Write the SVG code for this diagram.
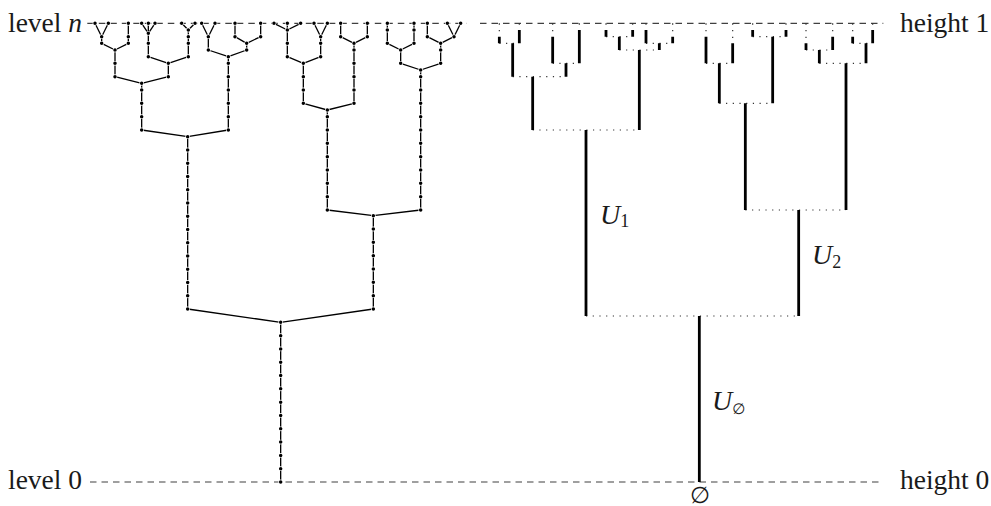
<svg xmlns="http://www.w3.org/2000/svg" xmlns:xlink="http://www.w3.org/1999/xlink" width="991" height="506" viewBox="0 0 991 506">
<style>
.ref{fill:none;stroke:#404040;stroke-width:1.1;stroke-dasharray:6.5 5}
.edge{fill:none;stroke:#000;stroke-width:1.3;stroke-linejoin:round}
.halo{fill:none;stroke:#fff;stroke-width:4.8;stroke-linecap:round}
.dot{fill:none;stroke:#000;stroke-width:3.5;stroke-linecap:round}
.bar{fill:none;stroke:#000;stroke-width:2.8}
.link{fill:none;stroke:#333;stroke-width:1.2;stroke-dasharray:1.2 5.5}
.vlink{fill:none;stroke:#333;stroke-width:1.2;stroke-dasharray:1.3 5.37}
text{font-family:"Liberation Serif","DejaVu Serif",serif;fill:#1a1a1a}
.lab{font-size:27.5px}
.var{font-size:28px;font-style:italic}
.sub{font-size:18px;font-style:normal}
.es{font-family:"DejaVu Sans",sans-serif;font-style:normal}
</style>
<defs>
<path id="lv" d="M95 23.33h0M108.33 23.33h0M128.33 23.33h0M141.67 23.33h0M148.33 23.33h0M155 23.33h0M181.67 23.33h0M195 23.33h0M201.67 23.33h0M215 23.33h0M235 23.33h0M260.67 23.33h0M274 23.33h0M287.33 23.33h0M300.67 23.33h0M314 23.33h0M327.33 23.33h0M340.67 23.33h0M367.33 23.33h0M387.33 23.33h0M414 23.33h0M427.33 23.33h0M447.33 23.33h0M460.67 23.33h0
M101.67 36.67h0M101.67 43.33h0M128.33 36.67h0M128.33 43.33h0M115 50h0M115 63.33h0M115 76.67h0
M141.67 83.33h0M141.67 90h0M141.67 103.33h0M141.67 116.67h0M141.67 130h0
M148.33 33.33h0M148.33 43.33h0M148.33 56.67h0M168.33 63.33h0M168.33 76.67h0
M188.33 30h0M188.33 36.67h0M188.33 43.33h0M188.33 56.67h0
M208.33 36.67h0M208.33 50h0M228.33 56.67h0M228.33 63.33h0M228.33 76.67h0M228.33 90h0M228.33 103.33h0M228.33 116.67h0M228.33 130h0
M235 36.67h0M246.67 43.33h0M246.67 50h0M260.67 36.67h0
M187.67 136.67h0M187.67 150h0M187.67 163.25h0M187.67 176.5h0M187.67 189.75h0M187.67 203h0M187.67 216.25h0M187.67 229.5h0M187.67 242.75h0M187.67 256h0M187.67 269.25h0M187.67 282.5h0M187.67 295.75h0M187.67 309h0
M280.67 322.33h0M280.67 335.64h0M280.67 348.94h0M280.67 362.25h0M280.67 375.56h0M280.67 388.86h0M280.67 402.17h0M280.67 415.47h0M280.67 428.78h0M280.67 442.08h0M280.67 455.39h0M280.67 468.69h0M280.67 482h0
M287.33 30h0M287.33 43.33h0M287.33 56.67h0M303.33 63.33h0M303.33 76.67h0M303.33 90h0M303.33 103.33h0
M320.67 36.67h0M320.67 43.33h0M320.67 56.67h0
M340.67 36.67h0M367.33 36.67h0M354 43.33h0M354 50h0M354 63.33h0M354 76.67h0M354 90h0M354 103.33h0
M327.33 110h0M327.33 116.67h0M327.33 130h0M327.33 143.33h0M327.33 156.67h0M327.33 170h0M327.33 183.33h0M327.33 196.67h0M327.33 210h0
M373.33 215.67h0M373.33 229h0M373.33 242.33h0M373.33 255.67h0M373.33 269h0M373.33 282.33h0M373.33 295.67h0M373.33 309h0
M387.33 30h0M387.33 43.33h0M414 30h0M414 43.33h0M400.67 50h0M400.67 63.33h0
M427.33 36.67h0M454 36.67h0M440.67 43.33h0M440.67 50h0M440.67 63.33h0
M420.67 70h0M420.67 76.67h0M420.67 90h0M420.67 103.33h0M420.67 116.67h0M420.67 130h0M420.67 143.33h0M420.67 156.67h0M420.67 170h0M420.67 183.33h0M420.67 196.67h0M420.67 210h0"/>
</defs>
<rect width="991" height="506" fill="#fff"/>
<g id="reference-lines">
<path class="ref" d="M87.3 23.33H467"/>
<path class="ref" d="M480 23.33H883.3"/>
<path class="ref" d="M90 482H883.3"/>
</g>
<g id="left-tree">
<g id="left-edges">
<path class="edge" d="M95 23.33L101.67 36.67V43.33L115 50V76.67L141.67 83.33V130L187.67 136.67V309L280.67 322.33V482"/>
<path class="edge" d="M108.33 23.33L101.67 36.67"/>
<path class="edge" d="M128.33 23.33V43.33L115 50"/>
<path class="edge" d="M141.67 23.33L148.33 33.33V56.67L168.33 63.33V76.67L141.67 83.33"/>
<path class="edge" d="M148.33 23.33V33.33"/>
<path class="edge" d="M155 23.33L148.33 33.33"/>
<path class="edge" d="M181.67 23.33L188.33 30V56.67L168.33 63.33"/>
<path class="edge" d="M195 23.33L188.33 30"/>
<path class="edge" d="M201.67 23.33L208.33 36.67V50L228.33 56.67V130L187.67 136.67"/>
<path class="edge" d="M215 23.33L208.33 36.67"/>
<path class="edge" d="M235 23.33V36.67L246.67 43.33V50L228.33 56.67"/>
<path class="edge" d="M260.67 23.33V36.67L246.67 43.33"/>
<path class="edge" d="M274 23.33L287.33 30V56.67L303.33 63.33V103.33L327.33 110V210L373.33 215.67V309L280.67 322.33"/>
<path class="edge" d="M287.33 23.33V30"/>
<path class="edge" d="M300.67 23.33L287.33 30"/>
<path class="edge" d="M314 23.33L320.67 36.67V56.67L303.33 63.33"/>
<path class="edge" d="M327.33 23.33L320.67 36.67"/>
<path class="edge" d="M340.67 23.33V36.67L354 43.33V103.33L327.33 110"/>
<path class="edge" d="M367.33 23.33V36.67L354 43.33"/>
<path class="edge" d="M387.33 23.33V43.33L400.67 50V63.33L420.67 70V210L373.33 215.67"/>
<path class="edge" d="M414 23.33V43.33L400.67 50"/>
<path class="edge" d="M427.33 23.33V36.67L440.67 43.33V63.33L420.67 70"/>
<path class="edge" d="M447.33 23.33L454 36.67L440.67 43.33"/>
<path class="edge" d="M460.67 23.33L454 36.67"/>
</g>
<g id="left-vertices">
<use xlink:href="#lv" class="halo"/>
<use xlink:href="#lv" class="dot"/>
</g>
</g>
<g id="right-tree">
<g id="right-links">
<path class="link" d="M586 316H798.67M532.67 130H639.33M512.67 76.67H566M499.33 43.33H519.33M552.67 63.33H579.33M619.33 50H659.33M606 36.67H632.67M646 43.33H672.67M745.33 210H846M719.33 103.33H772.67M706 63.33H732.67M752.67 36.67H786M819.33 63.33H866M806 50H832.67M852.67 43.33H872.67"/>
<path class="vlink" d="M499.33 23.33V36.67M519.33 23.33V30M552.67 23.33V36.67M579.33 23.33V30M606 23.33V30M632.67 23.33V30M646 23.33V30M672.67 23.33V36.67M706 23.33V36.67M732.67 23.33V43.33M752.67 23.33V30M786 23.33V30M806 23.33V43.33M832.67 23.33V36.67M852.67 23.33V36.67M872.67 23.33V30"/>
</g>
<g id="right-bars">
<path class="bar" d="M699.33 482V316M586 316V130M798.67 316V210M532.67 130V76.67M512.67 76.67V43.33M499.33 43.33V36.67M519.33 43.33V30M566 76.67V63.33M552.67 63.33V36.67M579.33 63.33V30M639.33 130V50M619.33 50V36.67M606 36.67V30M632.67 36.67V30M659.33 50V43.33M646 43.33V30M672.67 43.33V36.67M745.33 210V103.33M719.33 103.33V63.33M706 63.33V36.67M732.67 63.33V43.33M772.67 103.33V36.67M752.67 36.67V30M786 36.67V30M846 210V63.33M819.33 63.33V50M806 50V43.33M832.67 50V36.67M866 63.33V43.33M852.67 43.33V36.67M872.67 43.33V30"/>
</g>
</g>
<g id="labels">
<text class="lab" x="8" y="31.7">level <tspan font-style="italic">n</tspan></text>
<text class="lab" x="8" y="489">level 0</text>
<text class="lab" x="900" y="31.7">height 1</text>
<text class="lab" x="900" y="488.5">height 0</text>
<text class="var" x="600" y="223.5">U<tspan class="sub" dy="3.5">1</tspan></text>
<text class="var" x="812" y="264.3">U<tspan class="sub" dy="3.5">2</tspan></text>
<text class="var" x="712" y="409.5">U<tspan class="es" font-size="15" dy="4">∅</tspan></text>
<text class="es" x="700" y="502.5" font-size="23" text-anchor="middle">∅</text>
</g>
</svg>
